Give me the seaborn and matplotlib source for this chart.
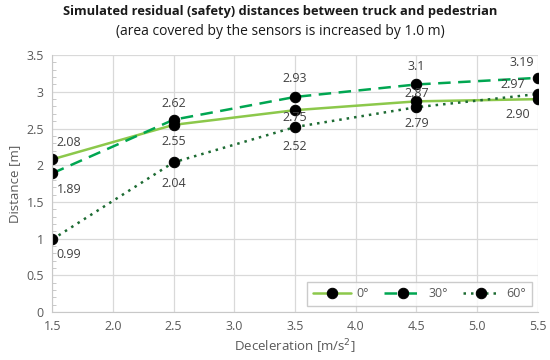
import matplotlib
matplotlib.use("Agg")
import matplotlib.pyplot as plt
import seaborn as sns
import pandas as pd
from matplotlib.ticker import MultipleLocator

# data
decel = [1.5, 2.5, 3.5, 4.5, 5.5]
angles = ["0°", "30°", "60°"]
dist_0 = [2.08, 2.55, 2.75, 2.87, 2.90]
dist_30 = [1.89, 2.62, 2.93, 3.1, 3.19]
dist_60 = [0.99, 2.04, 2.52, 2.79, 2.97]
labels_0 = ["2.08", "2.55", "2.75", "2.87", "2.90"]
labels_30 = ["1.89", "2.62", "2.93", "3.1", "3.19"]
labels_60 = ["0.99", "2.04", "2.52", "2.79", "2.97"]

series = [dist_0, dist_30, dist_60]
series_labels = [labels_0, labels_30, labels_60]
colors = ["#8cc84b", "#00a651", "#1d6b33"]
dashes = ["-", (0, (5, 3)), (0, (1, 2))]

# label offsets in points (dx, dy, ha)
offsets = [
    [(3, 12, "left"), (0, -12, "center"), (0, -5, "center"), (0, 6, "center"), (-6, -11, "right")],
    [(3, -12, "left"), (0, 12, "center"), (0, 13, "center"), (0, 13, "center"), (-3, 11, "right")],
    [(3, -11, "left"), (0, -15, "center"), (0, -14, "center"), (0, -12, "center"), (-9, 7, "right")],
]

sns.set_style("whitegrid")
plt.rcParams["font.family"] = ["Open Sans", "DejaVu Sans"]

fig, ax = plt.subplots(figsize=(5.5, 3.6), dpi=100)

for vals, lab, col, ls in zip(series, angles, colors, dashes):
    df = pd.DataFrame({"x": decel, "y": vals})
    sns.lineplot(data=df, x="x", y="y", ax=ax, color=col, linestyle=ls, linewidth=1.8,
                 marker="o", markersize=7.5, markerfacecolor="black", markeredgecolor="black",
                 label=lab)

for vals, labs, offs in zip(series, series_labels, offsets):
    for x, y, t, (dx, dy, ha) in zip(decel, vals, labs, offs):
        ax.annotate(t, (x, y), xytext=(dx, dy), textcoords="offset points",
                    ha=ha, va="center", fontsize=9, color="#404040")

ax.set_xlim(1.5, 5.5)
ax.set_ylim(0, 3.5)
ax.xaxis.set_major_locator(MultipleLocator(0.5))
ax.yaxis.set_major_locator(MultipleLocator(0.5))
ax.yaxis.set_minor_locator(MultipleLocator(0.1))
ax.set_xticklabels([f"{v:.1f}" for v in ax.get_xticks()])
ax.yaxis.set_major_formatter(matplotlib.ticker.FuncFormatter(lambda v, p: f"{v:g}"))
ax.tick_params(axis="both", labelsize=9, labelcolor="#595959", length=0, pad=6)
ax.tick_params(axis="y", which="minor", direction="in", length=3, color="#c0c0c0", left=True)
ax.grid(True, color="#d9d9d9", linewidth=0.9)
for s in ["top", "right"]:
    ax.spines[s].set_visible(False)
for s in ["left", "bottom"]:
    ax.spines[s].set_color("#c8c8c8")

ax.set_xlabel("Deceleration [m/s$^2$]", fontsize=9.5, color="#595959", labelpad=3)
ax.set_ylabel("Distance [m]", fontsize=9.5, color="#595959", labelpad=4)

leg = ax.legend(loc="lower right", ncol=3, fontsize=9, frameon=True, fancybox=False,
                handlelength=3.0, columnspacing=1.2, borderpad=0.45, handletextpad=0.5,
                bbox_to_anchor=(1.0, 0.0))
leg.get_frame().set_edgecolor("#bfbfbf")
for t in leg.get_texts():
    t.set_color("#595959")

fig.text(0.509, 0.967, "Simulated residual (safety) distances between truck and pedestrian",
         ha="center", va="center", fontsize=9.3, fontweight="bold", color="#1a1a1a")
fig.text(0.509, 0.912, "(area covered by the sensors is increased by 1.0 m)",
         ha="center", va="center", fontsize=10, color="#1a1a1a")

fig.subplots_adjust(left=0.095, right=0.978, top=0.847, bottom=0.133)
fig.savefig("out.png", dpi=100)
